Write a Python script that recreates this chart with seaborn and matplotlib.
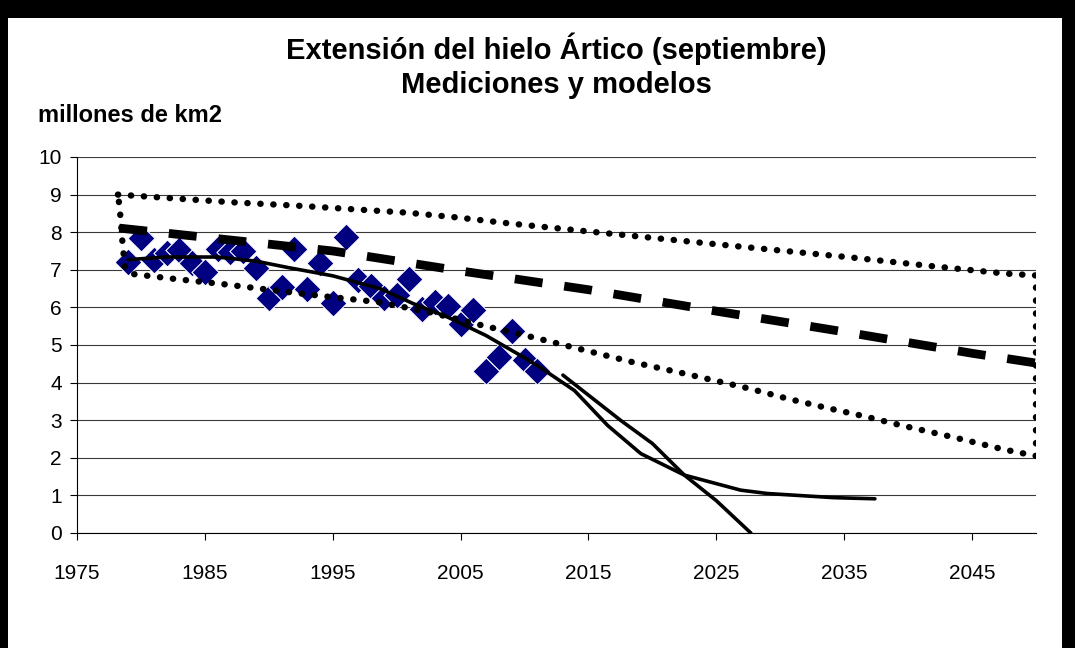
import numpy as np
import pandas as pd
import matplotlib
matplotlib.use("Agg")
import matplotlib.pyplot as plt
import seaborn as sns
from matplotlib.patches import Rectangle

# ---------------- data ----------------
obs_years = list(range(1979, 2012))
obs_extent = [7.20, 7.85, 7.25, 7.45, 7.52, 7.17, 6.93, 7.54, 7.48, 7.49, 7.04,
              6.24, 6.55, 7.55, 6.50, 7.18, 6.13, 7.88, 6.74, 6.56, 6.24, 6.32,
              6.75, 5.96, 6.15, 6.05, 5.57, 5.92, 4.30, 4.68, 5.36, 4.60, 4.30]

# smooth fit through the observations, extended to 2037
fit_years = [1979, 1982, 1986, 1989, 1991.5, 1995, 1998.7, 2001.3, 2004, 2007,
             2010, 2011.2, 2013.9, 2016.5, 2019.1, 2022.5, 2026.9, 2029, 2034.2, 2037.4]
fit_vals = [7.27, 7.34, 7.34, 7.23, 7.06, 6.84, 6.50, 6.10, 5.74, 5.25,
            4.66, 4.41, 3.79, 2.86, 2.11, 1.54, 1.14, 1.05, 0.94, 0.91]

# steep projection from 2013 reaching zero
proj_years = [2013, 2017.5, 2020, 2022.5, 2025, 2027.7]
proj_vals = [4.20, 3.00, 2.38, 1.54, 0.86, 0.00]

# model mean (dashed)
mean_years = [1978.3, 1995, 2005, 2015, 2025, 2035, 2045, 2050]
mean_vals = [8.11, 7.50, 6.97, 6.47, 5.90, 5.35, 4.78, 4.52]

# model range (dotted envelope)
upper_years = [1978.2, 1983.4, 1987.4, 1992.5, 1996.6, 2000.8, 2004.8, 2008.9,
               2015, 2025, 2035.5, 2041.5, 2047.6, 2050]
upper_vals = [9.00, 8.88, 8.79, 8.70, 8.61, 8.52, 8.39, 8.23,
              8.02, 7.68, 7.33, 7.11, 6.90, 6.85]
lower_years = [1979.3, 1982.3, 1986.4, 1990.5, 1994.5, 1998.6, 2002.6, 2006.7,
               2010.6, 2014.6, 2018.5, 2022.5, 2027.6, 2030.6, 2033.6, 2036.5,
               2039.5, 2043.5, 2047.5, 2050]
lower_vals = [6.89, 6.77, 6.62, 6.45, 6.29, 6.14, 5.87, 5.52,
              5.21, 4.87, 4.54, 4.24, 3.84, 3.57, 3.33, 3.11,
              2.86, 2.55, 2.22, 2.05]
left_years = [1978.75, 1978.65, 1978.55, 1978.4, 1978.3]
left_vals = [7.06, 7.40, 7.75, 8.41, 8.75]

x_ticks = [1975, 1985, 1995, 2005, 2015, 2025, 2035, 2045]
y_ticks = list(range(0, 11))

title1 = "Extensión del hielo Ártico (septiembre)"
title2 = "Mediciones y modelos"
ylabel = "millones de km2"

# ---------------- style ----------------
sns.set_style("white")
plt.rcParams["font.family"] = ["Liberation Sans", "DejaVu Sans"]
plt.rcParams["text.color"] = "black"

fig = plt.figure(figsize=(10.75, 6.48), dpi=100, facecolor="black")
fig.patches.append(Rectangle((8 / 1075, 0), (1062 - 8) / 1075, 1 - 18 / 648,
                             transform=fig.transFigure, facecolor="white",
                             edgecolor="none", zorder=-10))
ax = fig.add_axes([77 / 1075, 1 - 533 / 648, (1036 - 77) / 1075, (533 - 157) / 648])
ax.set_facecolor("white")
ax.patch.set_alpha(0)

# envelope path (closed)
env_x = upper_years + lower_years[::-1] + left_years + [upper_years[0]]
env_y = upper_vals + lower_vals[::-1] + left_vals + [upper_vals[0]]
env_df = pd.DataFrame({"x": env_x, "y": env_y})

obs_df = pd.DataFrame({"year": obs_years, "extent": obs_extent})
fit_df = pd.DataFrame({"year": fit_years, "val": fit_vals})
proj_df = pd.DataFrame({"year": proj_years, "val": proj_vals})
mean_df = pd.DataFrame({"year": mean_years, "val": mean_vals})

sns.scatterplot(data=obs_df, x="year", y="extent", marker="D", s=190,
                color="#000080", edgecolor="white", linewidth=0.8, ax=ax, zorder=3)

sns.lineplot(data=mean_df, x="year", y="val", color="black", ax=ax, zorder=4,
             estimator=None, sort=False, linewidth=6.3,
             linestyle=(0, (3.2, 2.5)), dash_capstyle="butt")

sns.lineplot(data=env_df, x="x", y="y", color="black", ax=ax, zorder=5,
             estimator=None, sort=False, linewidth=4.6,
             linestyle=(0, (0.05, 1.98)), dash_capstyle="round")

sns.lineplot(data=fit_df, x="year", y="val", color="black", ax=ax,
             zorder=6, estimator=None, sort=False, linewidth=2.6)
sns.lineplot(data=proj_df, x="year", y="val", color="black", ax=ax,
             zorder=6, estimator=None, sort=False, linewidth=2.6)

ax.set_xlim(1975, 2050)
ax.set_ylim(0, 10)
ax.set_xticks(x_ticks)
ax.set_xticklabels([str(t) for t in x_ticks])
ax.set_yticks(y_ticks)
ax.set_yticklabels([str(t) for t in y_ticks])
ax.set_xlabel("")
ax.set_ylabel("")

ax.yaxis.grid(True, color="#3a3a3a", lw=0.8)
ax.set_axisbelow(True)
for s in ["top", "right"]:
    ax.spines[s].set_visible(False)
for s in ["left", "bottom"]:
    ax.spines[s].set_color("black")
    ax.spines[s].set_linewidth(0.8)
ax.tick_params(axis="both", direction="out", length=5, width=0.8, color="black",
               labelsize=15, labelcolor="black", bottom=True, left=True)
ax.tick_params(axis="x", pad=17)
ax.tick_params(axis="y", pad=6)

fig.text(556 / 1075, 1 - 49 / 648, title1, ha="center", va="center",
         fontsize=21, fontweight="bold", color="black")
fig.text(556 / 1075, 1 - 85 / 648, title2, ha="center", va="center",
         fontsize=21, fontweight="bold", color="black")
fig.text(38 / 1075, 1 - 116 / 648, ylabel, ha="left", va="center",
         fontsize=17, fontweight="bold", color="black")

fig.savefig("out.png", dpi=100, facecolor=fig.get_facecolor())
